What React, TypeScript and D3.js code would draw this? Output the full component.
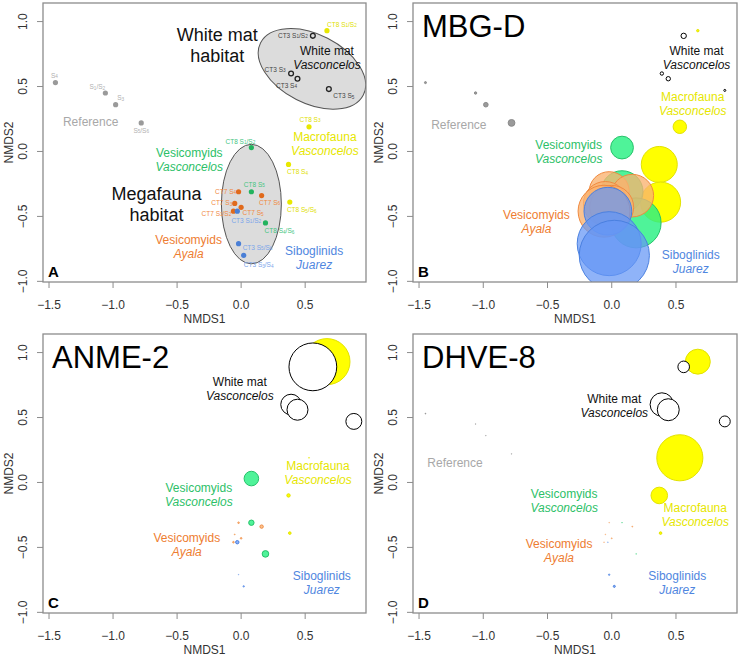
import React from 'react';
import * as d3 from 'd3';

const FONT = '"Liberation Sans", Arial, Helvetica, sans-serif';

// ---- samples (same order in every array) ----
const sampleLabels = [
  'S4', 'S1/S2', 'S3', 'S5/S6',
  'CT3 S1/S2', 'CT3 S3', 'CT3 S4', 'CT3 S5',
  'CT8 S1/S2', 'CT8 S3', 'CT8 S4', 'CT8 S5/S6',
  'CT8 S1/S2', 'CT8 S5', 'CT8 S4/S6',
  'CT7 S4', 'CT7 S6', 'CT7 S3', 'CT7 S5', 'CT7 S1/S2',
  'CT3 S1/S2', 'CT3 S5/S6', 'CT3 S3/S4',
];
const sampleGroup = [
  'ref', 'ref', 'ref', 'ref',
  'wm', 'wm', 'wm', 'wm',
  'mac', 'mac', 'mac', 'mac',
  'vv', 'vv', 'vv',
  'va', 'va', 'va', 'va', 'va',
  'sib', 'sib', 'sib',
];
const nmds1 = [
  -1.45, -1.06, -0.98, -0.78,
  0.56, 0.39, 0.44, 0.88,
  0.67, 0.53, 0.37, 0.38,
  0.08, 0.08, 0.19,
  -0.02, 0.16, -0.05, 0.0, -0.06,
  -0.03, -0.02, 0.02,
];
const nmds2 = [
  0.53, 0.45, 0.36, 0.22,
  0.89, 0.6, 0.56, 0.47,
  0.93, 0.19, -0.1, -0.39,
  0.03, -0.31, -0.55,
  -0.31, -0.34, -0.4, -0.43, -0.46,
  -0.46, -0.71, -0.8,
];
// in panel A the CT3 S5 point sits inside the white mat ellipse
const panelACT3S5 = [0.685, 0.48];

// relative abundance (%) of each lineage per sample
const mbgdAbund = [
  0.08, 0.11, 0.41, 0.89,
  0.56, 0.22, 0.37, 0.08,
  0.11, 3.5, 25, 31,
  10, 34, 48,
  31, 35, 37, 37, 52,
  44, 79, 95,
];
const anme2Abund = [
  0, 0, 0, 0,
  44, 8.2, 8.5, 4.9,
  41, 0.02, 0.22, 0.13,
  4.1, 0.56, 0.84,
  0.05, 0.22, 0.02, 0.05, 0.05,
  0.22, 0.01, 0.04,
];
const dhve8Abund = [
  0.02, 0.012, 0.012, 0.012,
  2.6, 10.6, 9.3, 2.3,
  12, 41, 5.3, 0.13,
  0, 0.012, 0.012,
  0.012, 0.02, 0.012, 0.02, 0.012,
  0.012, 0.04, 0.08,
];

const groupKeys = ['ref', 'wm', 'mac', 'vv', 'va', 'sib'];
const groupTitle = ['Reference', 'White mat', 'Macrofauna', 'Vesicomyids', 'Vesicomyids', 'Siboglinids'];
const groupSite = ['', 'Vasconcelos', 'Vasconcelos', 'Vasconcelos', 'Ayala', 'Juarez'];

const panelTitles = ['', 'MBG-D', 'ANME-2', 'DHVE-8'];
const panelLetters = ['A', 'B', 'C', 'D'];
const panelAbund = [null, mbgdAbund, anme2Abund, dhve8Abund];

const xTicks = [-1.5, -1.0, -0.5, 0.0, 0.5];
const yTicks = [-1.0, -0.5, 0.0, 0.5, 1.0];

// habitat ellipses of panel A (data units)
const habitatEllipses = [
  { label: ['White mat', 'habitat'], cx: 0.553, cy: 0.636, a: 0.45, b: 0.265, angle: 27, tx: -0.187, ty: 0.9 },
  { label: ['Megafauna', 'habitat'], cx: 0.08, cy: -0.405, a: 0.234, b: 0.46, angle: 0, tx: -0.66, ty: -0.33 },
];

// ---- layout / styles ----
const W = 741;
const H = 656;
const panelBoxes = [
  { left: 43, top: 3, right: 366, bottom: 282 },
  { left: 413, top: 3, right: 737, bottom: 282 },
  { left: 43, top: 334, right: 366, bottom: 613 },
  { left: 413, top: 334, right: 737, bottom: 613 },
];
const xDomain = [-1.547, 0.975];
const yDomain = [-1.005, 1.143];

// group label positions per panel, data units (centre of first line)
const groupLabelPos: Record<string, number[] | null>[] = [
  { ref: [-1.175, 0.23], wm: [0.67, 0.77], mac: [0.654, 0.115], vv: [-0.405, -0.008], va: [-0.41, -0.68], sib: [0.57, -0.77] },
  { ref: [-1.19, 0.2], wm: [0.66, 0.77], mac: [0.63, 0.42], vv: [-0.335, 0.05], va: [-0.586, -0.49], sib: [0.615, -0.795] },
  { ref: null, wm: [-0.01, 0.777], mac: [0.6, 0.127], vv: [-0.33, -0.04], va: [-0.424, -0.43], sib: [0.63, -0.72] },
  { ref: [-1.22, 0.146], wm: [0.02, 0.64], mac: [0.65, -0.2], vv: [-0.37, -0.09], va: [-0.41, -0.47], sib: [0.51, -0.72] },
];

// offsets (px) of the small sample labels in panel A
const sampleLabelOffset = [
  [-1, -8], [-8, -7], [5, -7.5], [0, 7],
  [-20, -1], [-16, -5], [-11, 6], [15, 6],
  [15, -7], [1, -8], [9, 7], [12, 7],
  [-11, -7], [3, -8], [14, 7],
  [-13, -1], [8, 6], [-13, -1.5], [12, 5], [-17, 1.5],
  [9, 8.5], [19, 3], [15, 9],
];

const textColor: Record<string, string> = {
  ref: '#a8a8a8', wm: '#111', mac: '#e6e600', vv: '#2dbf68', va: '#ee7d31', sib: '#4f86e0',
};
const pointColor: Record<string, string> = {
  ref: '#9a9a9a', wm: '#222', mac: '#e8e800', vv: '#22b35e', va: '#e06a1c', sib: '#4a7fd6',
};
const smallLabelColor: Record<string, string> = {
  ref: '#b0b0b0', wm: '#444', mac: '#e0e000', vv: '#45c47f', va: '#f0893f', sib: '#7aa4ea',
};
const bubbleFill: Record<string, string> = {
  ref: '#9a9a9a', wm: '#ffffff', mac: '#ffff00', vv: 'rgba(40,240,130,0.82)',
  va: 'rgba(250,178,112,0.78)', sib: 'rgba(100,150,245,0.72)',
};
const bubbleStroke: Record<string, string> = {
  ref: '#8a8a8a', wm: '#000', mac: '#e2e200', vv: '#25c26a', va: '#f08a40', sib: '#4a80e0',
};
const bubbleOrder = ['ref', 'mac', 'vv', 'va', 'sib', 'wm'];

const radius = d3.scaleSqrt().domain([0, 100]).range([0, 36]);

function SubLabel({ text, x, y, color, size }: { text: string; x: number; y: number; color: string; size: number }) {
  const pieces: { t: string; sub: boolean }[] = [];
  let last = 0;
  const re = /S(\d)/g;
  let m: RegExpExecArray | null;
  while ((m = re.exec(text)) !== null) {
    pieces.push({ t: text.slice(last, m.index + 1), sub: false });
    pieces.push({ t: m[1], sub: true });
    last = m.index + m[0].length;
  }
  if (last < text.length) pieces.push({ t: text.slice(last), sub: false });
  let shift = 0;
  return (
    <text x={x} y={y} fill={color} fontSize={size} textAnchor="middle" dominantBaseline="central">
      {pieces.map((p, i) => {
        const dy = p.sub ? 1.6 - shift : -shift;
        shift = p.sub ? 1.6 : 0;
        return (
          <tspan key={i} dy={dy} fontSize={p.sub ? size * 0.72 : size}>
            {p.t}
          </tspan>
        );
      })}
    </text>
  );
}

function Panel({ index }: { index: number }) {
  const box = panelBoxes[index];
  const x = d3.scaleLinear().domain(xDomain).range([box.left, box.right]);
  const y = d3.scaleLinear().domain(yDomain).range([box.bottom, box.top]);
  const clipId = `plot-clip-${index}`;
  const abund = panelAbund[index];
  const kx = x(1) - x(0);
  const ky = y(0) - y(1);
  const labelPos = groupLabelPos[index];

  const samples = sampleLabels.map((s, i) => {
    const useA = index === 0 && i === 7;
    return {
      label: s,
      group: sampleGroup[i],
      nx: useA ? panelACT3S5[0] : nmds1[i],
      ny: useA ? panelACT3S5[1] : nmds2[i],
      value: abund ? abund[i] : 0,
      i,
    };
  });

  const bubbles = abund
    ? bubbleOrder.flatMap((g) => samples.filter((s) => s.group === g && s.value > 0))
    : [];

  return (
    <g>
      <defs>
        <clipPath id={clipId}>
          <rect x={box.left} y={box.top} width={box.right - box.left} height={box.bottom - box.top} />
        </clipPath>
      </defs>

      <g clipPath={`url(#${clipId})`}>
        {index === 0 &&
          habitatEllipses.map((e, k) => (
            <ellipse
              key={k}
              cx={x(e.cx)}
              cy={y(e.cy)}
              rx={e.a * kx}
              ry={e.b * ky}
              transform={`rotate(${e.angle},${x(e.cx)},${y(e.cy)})`}
              fill="#d6d6d6"
              fillOpacity={0.85}
              stroke="#555"
              strokeWidth={1}
            />
          ))}

        {index === 0 &&
          samples.map((s) =>
            s.group === 'wm' ? (
              <circle key={s.i} cx={x(s.nx)} cy={y(s.ny)} r={2.4} fill="none" stroke="#222" strokeWidth={1.3} />
            ) : (
              <circle key={s.i} cx={x(s.nx)} cy={y(s.ny)} r={2.6} fill={pointColor[s.group]} />
            )
          )}

        {bubbles.map((s) => {
          const r = radius(s.value);
          return (
            <circle
              key={s.i}
              cx={x(s.nx)}
              cy={y(s.ny)}
              r={r}
              fill={bubbleFill[s.group]}
              stroke={bubbleStroke[s.group]}
              strokeWidth={Math.min(1, Math.max(0.4, r))}
            />
          );
        })}
      </g>

      {index === 0 &&
        samples.map((s) => (
          <SubLabel
            key={s.i}
            text={s.label}
            x={x(s.nx) + sampleLabelOffset[s.i][0]}
            y={y(s.ny) + sampleLabelOffset[s.i][1]}
            color={smallLabelColor[s.group]}
            size={6.5}
          />
        ))}

      {index === 0 &&
        habitatEllipses.map((e, k) => (
          <text key={k} x={x(e.tx)} y={y(e.ty)} fontSize={18} fill="#111" textAnchor="middle" dominantBaseline="central">
            <tspan x={x(e.tx)}>{e.label[0]}</tspan>
            <tspan x={x(e.tx)} dy={21}>
              {e.label[1]}
            </tspan>
          </text>
        ))}

      {groupKeys.map((g, k) => {
        const pos = labelPos[g];
        if (!pos) return null;
        const px = x(pos[0]);
        const py = y(pos[1]);
        return (
          <text key={g} fontSize={12} fill={textColor[g]} textAnchor="middle" dominantBaseline="central">
            <tspan x={px} y={py}>
              {groupTitle[k]}
            </tspan>
            {groupSite[k] && (
              <tspan x={px} y={py + 14} fontStyle="italic">
                {groupSite[k]}
              </tspan>
            )}
          </text>
        );
      })}

      {panelTitles[index] && (
        <text x={box.left + 9} y={box.top + 34} fontSize={31} fill="#000">
          {panelTitles[index]}
        </text>
      )}

      <text x={box.left + 5} y={box.bottom - 5} fontSize={15} fontWeight="bold" fill="#000">
        {panelLetters[index]}
      </text>

      {/* frame and axes */}
      <rect
        x={box.left}
        y={box.top}
        width={box.right - box.left}
        height={box.bottom - box.top}
        fill="none"
        stroke="#8c8c8c"
        strokeWidth={1.3}
      />
      {xTicks.map((t) => (
        <g key={`x${t}`}>
          <line x1={x(t)} x2={x(t)} y1={box.bottom} y2={box.bottom + 6} stroke="#8c8c8c" strokeWidth={1} />
          <text x={x(t)} y={box.bottom + 23} fontSize={12} fill="#333" textAnchor="middle" dominantBaseline="central">
            {d3.format('.1f')(t)}
          </text>
        </g>
      ))}
      {yTicks.map((t) => (
        <g key={`y${t}`}>
          <line x1={box.left - 6} x2={box.left} y1={y(t)} y2={y(t)} stroke="#8c8c8c" strokeWidth={1} />
          <text
            transform={`translate(${box.left - 20},${y(t)}) rotate(-90)`}
            fontSize={12}
            fill="#333"
            textAnchor="middle"
            dominantBaseline="central"
          >
            {d3.format('.1f')(t)}
          </text>
        </g>
      ))}
      <text
        x={(box.left + box.right) / 2}
        y={box.bottom + 37}
        fontSize={12}
        fill="#333"
        textAnchor="middle"
        dominantBaseline="central"
      >
        NMDS1
      </text>
      <text
        transform={`translate(${box.left - 34},${(box.top + box.bottom) / 2}) rotate(-90)`}
        fontSize={12}
        fill="#333"
        textAnchor="middle"
        dominantBaseline="central"
      >
        NMDS2
      </text>
    </g>
  );
}

export default function App() {
  return (
    <svg width={W} height={H} style={{ position: 'absolute', left: 0, top: 0, fontFamily: FONT }}>
      <rect width={W} height={H} fill="#fff" />
      {panelBoxes.map((_, i) => (
        <Panel key={i} index={i} />
      ))}
    </svg>
  );
}
